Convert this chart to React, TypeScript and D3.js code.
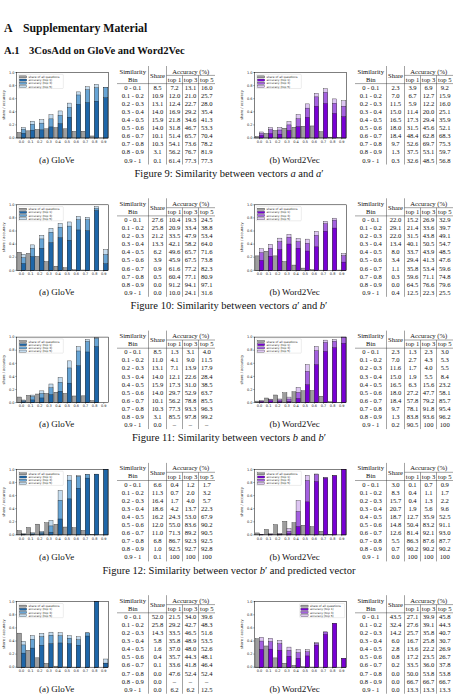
import * as d3 from "d3";
import { useEffect, useRef } from "react";

const W = 459;
const H = 697;
const BLOCK = 132.3; // vertical distance between figure rows
const SHIFT = 238; // horizontal distance from subfigure (a) to (b)

const bins = ["0 - 0.1", "0.1 - 0.2", "0.2 - 0.3", "0.3 - 0.4", "0.4 - 0.5", "0.5 - 0.6", "0.6 - 0.7", "0.7 - 0.8", "0.8 - 0.9", "0.9 - 1"];
const xTicks = ["0.0", "0.1", "0.2", "0.3", "0.4", "0.5", "0.6", "0.7", "0.8", "0.9"];
const yTicks = [0, 0.2, 0.4, 0.6, 0.8, 1.0];
const legendLabels = ["share of all questions", "accuracy (top 1)", "accuracy (top 3)", "accuracy (top 5)"];

// each row: [share, top 1, top 3, top 5] in percent, null where the table prints a dash
const fig9Glove = [
  [8.5, 7.2, 13.1, 16.0], [10.9, 12.0, 21.0, 25.7], [13.1, 12.4, 22.7, 28.0], [14.0, 16.9, 29.2, 35.4],
  [15.9, 21.8, 34.6, 41.3], [14.0, 31.8, 46.7, 53.3], [10.1, 51.4, 65.7, 70.4], [10.3, 54.1, 73.6, 78.2],
  [3.1, 56.2, 76.7, 81.9], [0.1, 61.4, 77.3, 77.3],
];
const fig9W2v = [
  [2.3, 3.9, 6.9, 9.2], [7.0, 6.7, 12.7, 15.9], [11.5, 5.9, 12.2, 16.0], [15.0, 11.4, 20.0, 25.1],
  [16.5, 17.3, 29.4, 35.9], [18.0, 31.5, 45.6, 52.1], [18.4, 48.4, 62.8, 68.3], [9.7, 52.6, 69.7, 75.3],
  [1.3, 37.5, 53.1, 59.7], [0.3, 32.6, 48.5, 56.8],
];
const fig10Glove = [
  [27.6, 10.4, 19.3, 24.5], [25.8, 20.9, 33.4, 38.8], [21.2, 33.5, 47.9, 53.4], [13.3, 42.1, 58.2, 64.0],
  [6.2, 49.6, 65.7, 71.6], [3.9, 45.9, 67.5, 73.8], [0.9, 61.6, 77.2, 82.3], [0.5, 60.4, 77.1, 80.9],
  [0.0, 91.2, 94.1, 97.1], [0.0, 10.0, 24.1, 31.6],
];
const fig10W2v = [
  [22.0, 15.2, 26.9, 32.9], [29.1, 21.4, 33.6, 39.7], [22.0, 31.5, 43.8, 49.1], [13.4, 40.1, 50.5, 54.7],
  [8.0, 33.7, 43.9, 48.5], [3.4, 29.4, 41.3, 47.6], [1.1, 35.8, 53.4, 59.6], [0.3, 59.6, 71.1, 74.8],
  [0.0, 64.5, 76.6, 79.6], [0.4, 12.5, 22.3, 25.5],
];
const fig11Glove = [
  [8.5, 1.3, 3.1, 4.0], [11.0, 4.1, 9.0, 11.5], [13.1, 7.1, 13.9, 17.9], [14.0, 12.1, 22.6, 28.4],
  [15.9, 17.3, 31.0, 38.5], [14.0, 29.7, 52.9, 63.7], [10.1, 56.2, 78.8, 85.5], [10.3, 77.3, 93.3, 96.3],
  [3.1, 85.5, 97.8, 99.2], [0.0, null, null, null],
];
const fig11W2v = [
  [2.3, 1.3, 2.3, 3.0], [7.0, 2.7, 4.3, 5.3], [11.6, 1.7, 4.0, 5.5], [15.0, 1.9, 5.5, 8.4],
  [16.5, 6.3, 15.6, 23.2], [18.0, 27.2, 47.7, 58.1], [18.4, 57.8, 79.2, 85.7], [9.7, 78.1, 91.8, 95.4],
  [1.3, 83.8, 93.6, 96.2], [0.2, 90.5, 100, 100],
];
const fig12Glove = [
  [6.6, 0.4, 1.2, 1.7], [11.3, 0.7, 2.0, 3.2], [16.4, 1.7, 4.0, 5.7], [18.6, 4.2, 13.7, 22.3],
  [16.2, 24.3, 53.0, 67.9], [12.0, 55.0, 83.6, 90.2], [11.0, 71.3, 89.2, 90.5], [6.8, 86.7, 92.3, 92.5],
  [1.0, 92.5, 92.7, 92.8], [0.1, 100, 100, 100],
];
const fig12W2v = [
  [3.0, 0.1, 0.7, 0.9], [8.3, 0.4, 1.1, 1.7], [15.7, 0.4, 1.3, 2.2], [20.7, 1.9, 5.6, 9.6],
  [18.7, 12.7, 35.9, 52.5], [14.8, 50.4, 83.2, 91.1], [12.6, 81.4, 92.1, 93.0], [5.5, 86.3, 87.6, 87.7],
  [0.7, 90.2, 90.2, 90.2], [0.0, 100, 100, 100],
];
const fig13Glove = [
  [52.0, 21.5, 34.0, 39.6], [25.8, 29.2, 42.7, 48.3], [14.3, 33.5, 46.5, 51.6], [5.8, 35.8, 48.9, 53.5],
  [1.6, 37.0, 48.0, 52.6], [0.4, 35.7, 44.3, 48.1], [0.1, 33.6, 41.8, 46.4], [0.0, 47.6, 52.4, 52.4],
  [0.0, null, null, null], [0.0, 6.2, 6.2, 12.5],
];
const fig13W2v = [
  [43.5, 27.1, 39.9, 45.8], [32.4, 27.6, 39.1, 44.3], [14.2, 25.7, 35.8, 40.7], [6.0, 16.7, 25.8, 30.7],
  [2.8, 13.6, 22.2, 26.9], [0.8, 17.2, 23.5, 26.7], [0.2, 33.5, 36.0, 37.8], [0.0, 50.0, 53.8, 53.8],
  [0.0, 66.7, 66.7, 66.7], [0.0, 13.3, 13.3, 13.3],
];
// the GloVe plot still shows a full bar in the 0.8 bin, where the table has no entry
const fig13GlovePlot08 = [100, 100, 100];

const gloveColors = ["#1e66a8", "#66a4d5", "#c4dcef"];
const w2vColors = ["#7800d4", "#a45fe0", "#ddc5f2"];

type Piece = [string, boolean];
const figures: {
  oy: number;
  caption: Piece[] | null;
  glove: (number | null)[][];
  w2v: (number | null)[][];
  legendRight: boolean;
  gloveFill?: [number, number[]];
}[] = [
  { oy: 0, caption: [["Figure 9: Similarity between vectors ", false], ["a", true], [" and ", false], ["a", true], ["′", false]], glove: fig9Glove, w2v: fig9W2v, legendRight: false },
  { oy: BLOCK, caption: [["Figure 10: Similarity between vectors ", false], ["a", true], ["′ and ", false], ["b", true], ["′", false]], glove: fig10Glove, w2v: fig10W2v, legendRight: false },
  { oy: BLOCK * 2, caption: [["Figure 11: Similarity between vectors ", false], ["b", true], [" and ", false], ["b", true], ["′", false]], glove: fig11Glove, w2v: fig11W2v, legendRight: false },
  { oy: BLOCK * 3, caption: [["Figure 12: Similarity between vector ", false], ["b", true], ["′ and predicted vector", false]], glove: fig12Glove, w2v: fig12W2v, legendRight: false },
  { oy: BLOCK * 4, caption: null, glove: fig13Glove, w2v: fig13W2v, legendRight: true, gloveFill: [8, fig13GlovePlot08] },
];

const SERIF = "'Liberation Serif', 'Times New Roman', serif";
const SANS = "'DejaVu Sans', sans-serif";

const fmt = (v: number | null) => (v == null ? "–" : v === 100 ? "100" : v.toFixed(1));

function drawChart(svg: any, rows: (number | null)[][], colors: string[], ox: number, oy: number, legendRight: boolean, fill?: [number, number[]]) {
  const x0 = ox + 16.5, x1 = ox + 108.3, yTop = oy + 72.5, yBot = oy + 138;
  const x = d3.scaleLinear().domain([-0.055, 0.95]).range([x0, x1]);
  const y = d3.scaleLinear().domain([0, 1]).range([yBot, yTop]);
  const bw = 0.045;

  const g = svg.append("g");

  // accuracy values for the plot, with the extra bar where needed
  const acc = rows.map((r, i) => {
    if (fill && fill[0] === i) return fill[1];
    return r[1] == null ? null : [r[1], r[2], r[3]];
  });

  // share bars (hatched), left of each tick
  g.selectAll("rect.share")
    .data(rows.map((r, i) => ({ i, v: r[0] as number })).filter((d) => d.v > 0))
    .join("rect")
    .attr("class", "share")
    .attr("x", (d: any) => x(d.i / 10 - bw))
    .attr("width", x(bw) - x(0))
    .attr("y", (d: any) => y(d.v / 100))
    .attr("height", (d: any) => yBot - y(d.v / 100))
    .attr("fill", "url(#xhatch)")
    .attr("stroke", "#222")
    .attr("stroke-width", 0.35);

  // accuracy bars: top 5 behind, top 3, then top 1 in front
  [2, 1, 0].forEach((k) => {
    g.selectAll(`rect.acc${k}`)
      .data(acc.map((a, i) => ({ i, a })).filter((d) => d.a != null))
      .join("rect")
      .attr("class", `acc${k}`)
      .attr("x", (d: any) => x(d.i / 10))
      .attr("width", x(bw) - x(0))
      .attr("y", (d: any) => y(d.a[k] / 100))
      .attr("height", (d: any) => yBot - y(d.a[k] / 100))
      .attr("fill", colors[k])
      .attr("stroke", "#222")
      .attr("stroke-width", 0.35);
  });

  // frame
  g.append("rect")
    .attr("x", x0).attr("y", yTop)
    .attr("width", x1 - x0).attr("height", yBot - yTop)
    .attr("fill", "none").attr("stroke", "#000").attr("stroke-width", 0.5);

  // y ticks
  yTicks.forEach((t) => {
    g.append("line").attr("x1", x0 - 1.3).attr("x2", x0).attr("y1", y(t)).attr("y2", y(t))
      .attr("stroke", "#000").attr("stroke-width", 0.35);
    g.append("text").attr("x", x0 - 2).attr("y", y(t)).attr("dy", "0.35em")
      .attr("text-anchor", "end").attr("font-family", SANS).attr("font-size", 3.5).attr("fill", "#222")
      .text(t.toFixed(1));
  });

  // x ticks
  xTicks.forEach((t, i) => {
    g.append("line").attr("x1", x(i / 10)).attr("x2", x(i / 10)).attr("y1", yBot).attr("y2", yBot + 1.3)
      .attr("stroke", "#000").attr("stroke-width", 0.35);
    g.append("text").attr("x", x(i / 10)).attr("y", yBot + 4.6)
      .attr("text-anchor", "middle").attr("font-family", SANS).attr("font-size", 3.5).attr("fill", "#222")
      .text(t);
  });

  // y axis label
  g.append("text")
    .attr("transform", `translate(${ox + 5.2},${oy + 105}) rotate(-90)`)
    .attr("text-anchor", "middle").attr("font-family", SANS).attr("font-size", 3.6).attr("fill", "#222")
    .text("share / accuracy");

  // legend
  const lw = 45, lh = 14.2;
  const lx = legendRight ? x1 - 1.6 - lw : x0 + 1.8;
  const ly = yTop + 1.8;
  const leg = g.append("g");
  leg.append("rect").attr("x", lx).attr("y", ly).attr("width", lw).attr("height", lh).attr("rx", 0.8)
    .attr("fill", "#fff").attr("fill-opacity", 0.85).attr("stroke", "#c8c8c8").attr("stroke-width", 0.35);
  const swatch = ["url(#xhatch)", colors[0], colors[1], colors[2]];
  legendLabels.forEach((lab, i) => {
    const cy = ly + 2.6 + i * 3.2;
    leg.append("rect").attr("x", lx + 1.2).attr("y", cy - 1.05).attr("width", 7.2).attr("height", 2.1)
      .attr("fill", swatch[i]).attr("stroke", "#222").attr("stroke-width", 0.3);
    leg.append("text").attr("x", lx + 10.2).attr("y", cy).attr("dy", "0.35em")
      .attr("font-family", SANS).attr("font-size", 2.9).attr("fill", "#222").text(lab);
  });
}

function drawTable(svg: any, rows: (number | null)[][], ox: number, oy: number) {
  const c = [117, 148.5, 166.5, 182.5, 198.5, 215].map((v) => v + ox);
  const mid = (a: number, b: number) => (a + b) / 2;
  const g = svg.append("g").attr("font-family", SERIF).attr("font-size", 6.6).attr("fill", "#111");
  const text = (tx: number, ty: number, s: string) =>
    g.append("text").attr("x", tx).attr("y", ty).attr("text-anchor", "middle").text(s);
  const line = (xa: number, ya: number, xb: number, yb: number) =>
    g.append("line").attr("x1", xa).attr("y1", ya).attr("x2", xb).attr("y2", yb)
      .attr("stroke", "#333").attr("stroke-width", 0.45);

  text(mid(c[0], c[1]), oy + 73.5, "Similarity");
  text(mid(c[0], c[1]), oy + 81.5, "Bin");
  text(mid(c[1], c[2]), oy + 77.8, "Share");
  text(mid(c[2], c[5]), oy + 73.5, "Accuracy (%)");
  ["top 1", "top 3", "top 5"].forEach((s, i) => text(mid(c[2 + i], c[3 + i]), oy + 81.7, s));

  line(c[2], oy + 75.4, c[5], oy + 75.4);
  line(c[0], oy + 83.6, c[5], oy + 83.6);
  line(c[1], oy + 66, c[1], oy + 164.5);
  line(c[2], oy + 66, c[2], oy + 164.5);
  line(c[3], oy + 75.4, c[3], oy + 164.5);
  line(c[4], oy + 75.4, c[4], oy + 164.5);

  rows.forEach((r, i) => {
    const by = oy + 89.6 + 8.1 * i;
    text(mid(c[0], c[1]), by, bins[i]);
    r.forEach((v, k) => text(mid(c[1 + k], c[2 + k]), by, fmt(v)));
  });
}

export default function App() {
  const ref = useRef<SVGSVGElement>(null);

  useEffect(() => {
    if (!ref.current) return;
    document.body.style.margin = "0";
    const svg = d3.select(ref.current);
    svg.selectAll("*").remove();

    svg.append("rect").attr("width", W).attr("height", H).attr("fill", "#fff");

    // crosshatch used by the share bars
    const pat = svg.append("defs").append("pattern")
      .attr("id", "xhatch").attr("patternUnits", "userSpaceOnUse")
      .attr("width", 1.8).attr("height", 1.8);
    pat.append("rect").attr("width", 1.8).attr("height", 1.8).attr("fill", "#cfcfcf");
    pat.append("path").attr("d", "M0,0L1.8,1.8M1.8,0L0,1.8")
      .attr("stroke", "#606060").attr("stroke-width", 0.4);

    // headings
    const h1 = svg.append("g").attr("font-family", SERIF).attr("font-weight", "bold").attr("fill", "#111");
    h1.append("text").attr("x", 4).attr("y", 31.5).attr("font-size", 11.8).text("A");
    h1.append("text").attr("x", 23).attr("y", 31.5).attr("font-size", 11.8).text("Supplementary Material");
    h1.append("text").attr("x", 4).attr("y", 53.6).attr("font-size", 10.6).text("A.1");
    h1.append("text").attr("x", 29).attr("y", 53.6).attr("font-size", 10.6).text("3CosAdd on GloVe and Word2Vec");

    figures.forEach((f) => {
      drawChart(svg, f.glove, gloveColors, 0, f.oy, false, f.gloveFill);
      drawChart(svg, f.w2v, w2vColors, SHIFT, f.oy, f.legendRight);
      drawTable(svg, f.glove, 0, f.oy);
      drawTable(svg, f.w2v, SHIFT, f.oy);

      svg.append("text").attr("x", 56.6).attr("y", f.oy + 162.8).attr("text-anchor", "middle")
        .attr("font-family", SERIF).attr("font-size", 9).attr("fill", "#111").text("(a) GloVe");
      svg.append("text").attr("x", 56.6 + SHIFT).attr("y", f.oy + 162.8).attr("text-anchor", "middle")
        .attr("font-family", SERIF).attr("font-size", 9).attr("fill", "#111").text("(b) Word2Vec");

      if (f.caption) {
        const cap = svg.append("text").attr("x", 229).attr("y", f.oy + 176.8).attr("text-anchor", "middle")
          .attr("font-family", SERIF).attr("font-size", 10.5).attr("fill", "#111");
        f.caption.forEach(([s, it]) => {
          cap.append("tspan").attr("font-style", it ? "italic" : "normal").text(s);
        });
      }
    });
  }, []);

  return <svg ref={ref} width={W} height={H} style={{ display: "block" }} />;
}
